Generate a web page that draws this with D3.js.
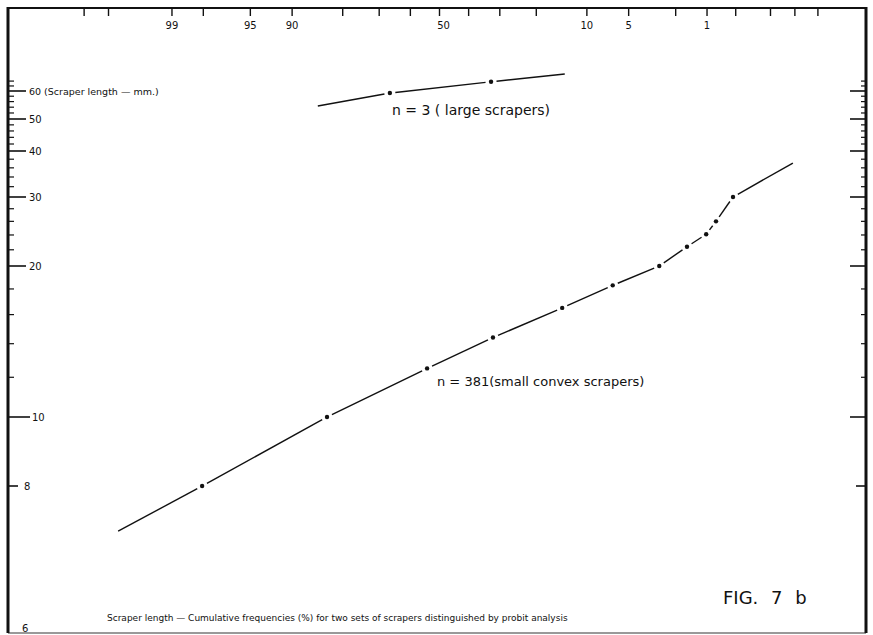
<!DOCTYPE html>
<html><head><meta charset="utf-8">
<script src="https://cdn.jsdelivr.net/npm/d3@7"></script>
<style>
body{margin:0;background:#fff}
svg{display:block}
text{font-family:"DejaVu Sans",sans-serif;fill:#111}
</style>
</head><body><svg id="c" width="873" height="635"></svg>
<script>
// ---- data ----
const probTicks = [99.9, 99.8, 99, 98, 95, 90, 80, 70, 60, 50, 40, 30, 20, 10, 5, 2, 1, 0.5, 0.2, 0.1, 0.05];
const probLabels = [99, 95, 90, 50, 10, 5, 1];
const lengthLabels = [60, 50, 40, 30, 20, 10, 8];
const lengthMinor = [12, 14, 16, 18, 22, 24, 26, 28, 32, 34, 36, 38, 42, 44, 46, 48, 52, 54, 56, 58, 62, 64];
const smallPct = [98.05, 83.6, 54.3, 32.1, 14.3, 6.6, 2.8, 1.57, 1.02, 0.81, 0.535];
const smallLen = [8.0, 10.0, 12.5, 14.4, 16.5, 18.3, 20.0, 22.4, 24.1, 26.0, 30.0];
const smallFitPct = [99.74, 0.106];
const smallFitLen = [7.3, 37.1];
const largePct = [66.7, 32.7];
const largeLen = [59.2, 63.7];
const largeFitPct = [85.5, 13.8];
const largeFitLen = [54.4, 67.0];

// inverse normal CDF (Acklam)
function probit(p){
  const a=[-3.969683028665376e+01,2.209460984245205e+02,-2.759285104469687e+02,1.383577518672690e+02,-3.066479806614716e+01,2.506628277459239e+00];
  const b=[-5.447609879822406e+01,1.615858368580409e+02,-1.556989798598866e+02,6.680131188771972e+01,-1.328068155288572e+01];
  const c=[-7.784894002430293e-03,-3.223964580411365e-01,-2.400758277161838e+00,-2.549732539343734e+00,4.374664141464968e+00,2.938163982698783e+00];
  const d=[7.784695709041462e-03,3.224671290700398e-01,2.445134137142996e+00,3.754408661907416e+00];
  const pl=0.02425, ph=1-pl; let q,r;
  if(p<pl){q=Math.sqrt(-2*Math.log(p));return (((((c[0]*q+c[1])*q+c[2])*q+c[3])*q+c[4])*q+c[5])/((((d[0]*q+d[1])*q+d[2])*q+d[3])*q+1);}
  if(p<=ph){q=p-0.5;r=q*q;return (((((a[0]*r+a[1])*r+a[2])*r+a[3])*r+a[4])*r+a[5])*q/(((((b[0]*r+b[1])*r+b[2])*r+b[3])*r+b[4])*r+1);}
  q=Math.sqrt(-2*Math.log(1-p));return -(((((c[0]*q+c[1])*q+c[2])*q+c[3])*q+c[4])*q+c[5])/((((d[0]*q+d[1])*q+d[2])*q+d[3])*q+1);
}

const svg = d3.select("#c");
const L=8, R=866, T=8, B=633;

const zScale = d3.scaleLinear().domain([0,1]).range([439.5,324.5]);
const x = p => zScale(probit(p/100));
const y = d3.scaleLog().domain([6,8,10,20,30,40,50,60]).range([628,486,417,266,197,151,119,91]);

// frame
svg.append("line").attr("x1",L).attr("x2",R).attr("y1",T).attr("y2",T).attr("stroke","#111").attr("stroke-width",2);
svg.append("line").attr("x1",L).attr("x2",R).attr("y1",B).attr("y2",B).attr("stroke","#777").attr("stroke-width",1.5);
svg.append("line").attr("x1",L).attr("x2",L).attr("y1",T-1).attr("y2",B).attr("stroke","#111").attr("stroke-width",3);
svg.append("line").attr("x1",R).attr("x2",R).attr("y1",T-1).attr("y2",B).attr("stroke","#111").attr("stroke-width",3);

// top probability axis
const gTop = svg.append("g");
gTop.selectAll("line").data(probTicks).join("line")
  .attr("x1",d=>x(d)).attr("x2",d=>x(d)).attr("y1",T).attr("y2",T+8)
  .attr("stroke","#111").attr("stroke-width",1.4);
gTop.selectAll("text").data(probLabels).join("text")
  .attr("x",d=>x(d)+(d===50?4:0)).attr("y",29).attr("text-anchor","middle")
  .attr("font-size",10).text(d=>d);

// left length axis
const gLeft = svg.append("g");
gLeft.selectAll("line.mn").data(lengthMinor).join("line").attr("class","mn")
  .attr("x1",L).attr("x2",L+6).attr("y1",d=>y(d)).attr("y2",d=>y(d))
  .attr("stroke","#111").attr("stroke-width",1.2);
gLeft.selectAll("line.mj").data(lengthLabels).join("line").attr("class","mj")
  .attr("x1",L).attr("x2",d=>L+(d===8?10:(d===10?22:18))).attr("y1",d=>y(d)).attr("y2",d=>y(d))
  .attr("stroke","#111").attr("stroke-width",1.6);
gLeft.selectAll("text").data(lengthLabels).join("text")
  .attr("x",d=>d===8?24:(d===10?32:29)).attr("y",d=>y(d)+4).attr("font-size",d=>d===60?9.5:10)
  .text(d=>d===60?"60 (Scraper length \u2014 mm.)":d);
gLeft.append("text").attr("x",22).attr("y",y(6)+4).attr("font-size",10).text("6");

// right ticks
const gRight = svg.append("g");
gRight.selectAll("line.mn").data(lengthMinor).join("line").attr("class","mn")
  .attr("x1",R).attr("x2",R-5).attr("y1",d=>y(d)).attr("y2",d=>y(d))
  .attr("stroke","#111").attr("stroke-width",1.2);
gRight.selectAll("line.mj").data(lengthLabels).join("line").attr("class","mj")
  .attr("x1",R).attr("x2",d=>R-(d===8?10:16)).attr("y1",d=>y(d)).attr("y2",d=>y(d))
  .attr("stroke","#111").attr("stroke-width",1.6);

// series drawing with gaps around dots
function drawSeries(fitPct, fitLen, pct, len){
  const pts = [[x(fitPct[0]),y(fitLen[0])]]
    .concat(pct.map((p,i)=>[x(p),y(len[i])]))
    .concat([[x(fitPct[1]),y(fitLen[1])]]);
  const g = svg.append("g");
  const gap = 5.5;
  for(let i=0;i<pts.length-1;i++){
    let [x1,y1]=pts[i],[x2,y2]=pts[i+1];
    const dx=x2-x1, dy=y2-y1, dl=Math.hypot(dx,dy), ux=dx/dl, uy=dy/dl;
    if(i>0){x1+=ux*gap;y1+=uy*gap;}
    if(i+1<pts.length-1){x2-=ux*gap;y2-=uy*gap;}
    g.append("line").attr("x1",x1).attr("y1",y1).attr("x2",x2).attr("y2",y2)
      .attr("stroke","#111").attr("stroke-width",1.4);
  }
  g.selectAll("circle").data(pct).join("circle")
    .attr("cx",d=>x(d)).attr("cy",(d,i)=>y(len[i])).attr("r",2.2).attr("fill","#111");
}
drawSeries(smallFitPct, smallFitLen, smallPct, smallLen);
drawSeries(largeFitPct, largeFitLen, largePct, largeLen);

// annotations
svg.append("text").attr("x",392).attr("y",115).attr("font-size",14).text("n =  3  ( large scrapers)");
svg.append("text").attr("x",437).attr("y",386).attr("font-size",13).text("n = 381(small convex scrapers)");
svg.append("text").attr("x",723).attr("y",604).attr("font-size",18)
  .attr("word-spacing",7).text("FIG. 7 b");
svg.append("text").attr("x",107).attr("y",621).attr("font-size",9)
  .text("Scraper length \u2014 Cumulative  frequencies (%) for  two sets of scrapers distinguished by probit analysis");
</script>
</body></html>
